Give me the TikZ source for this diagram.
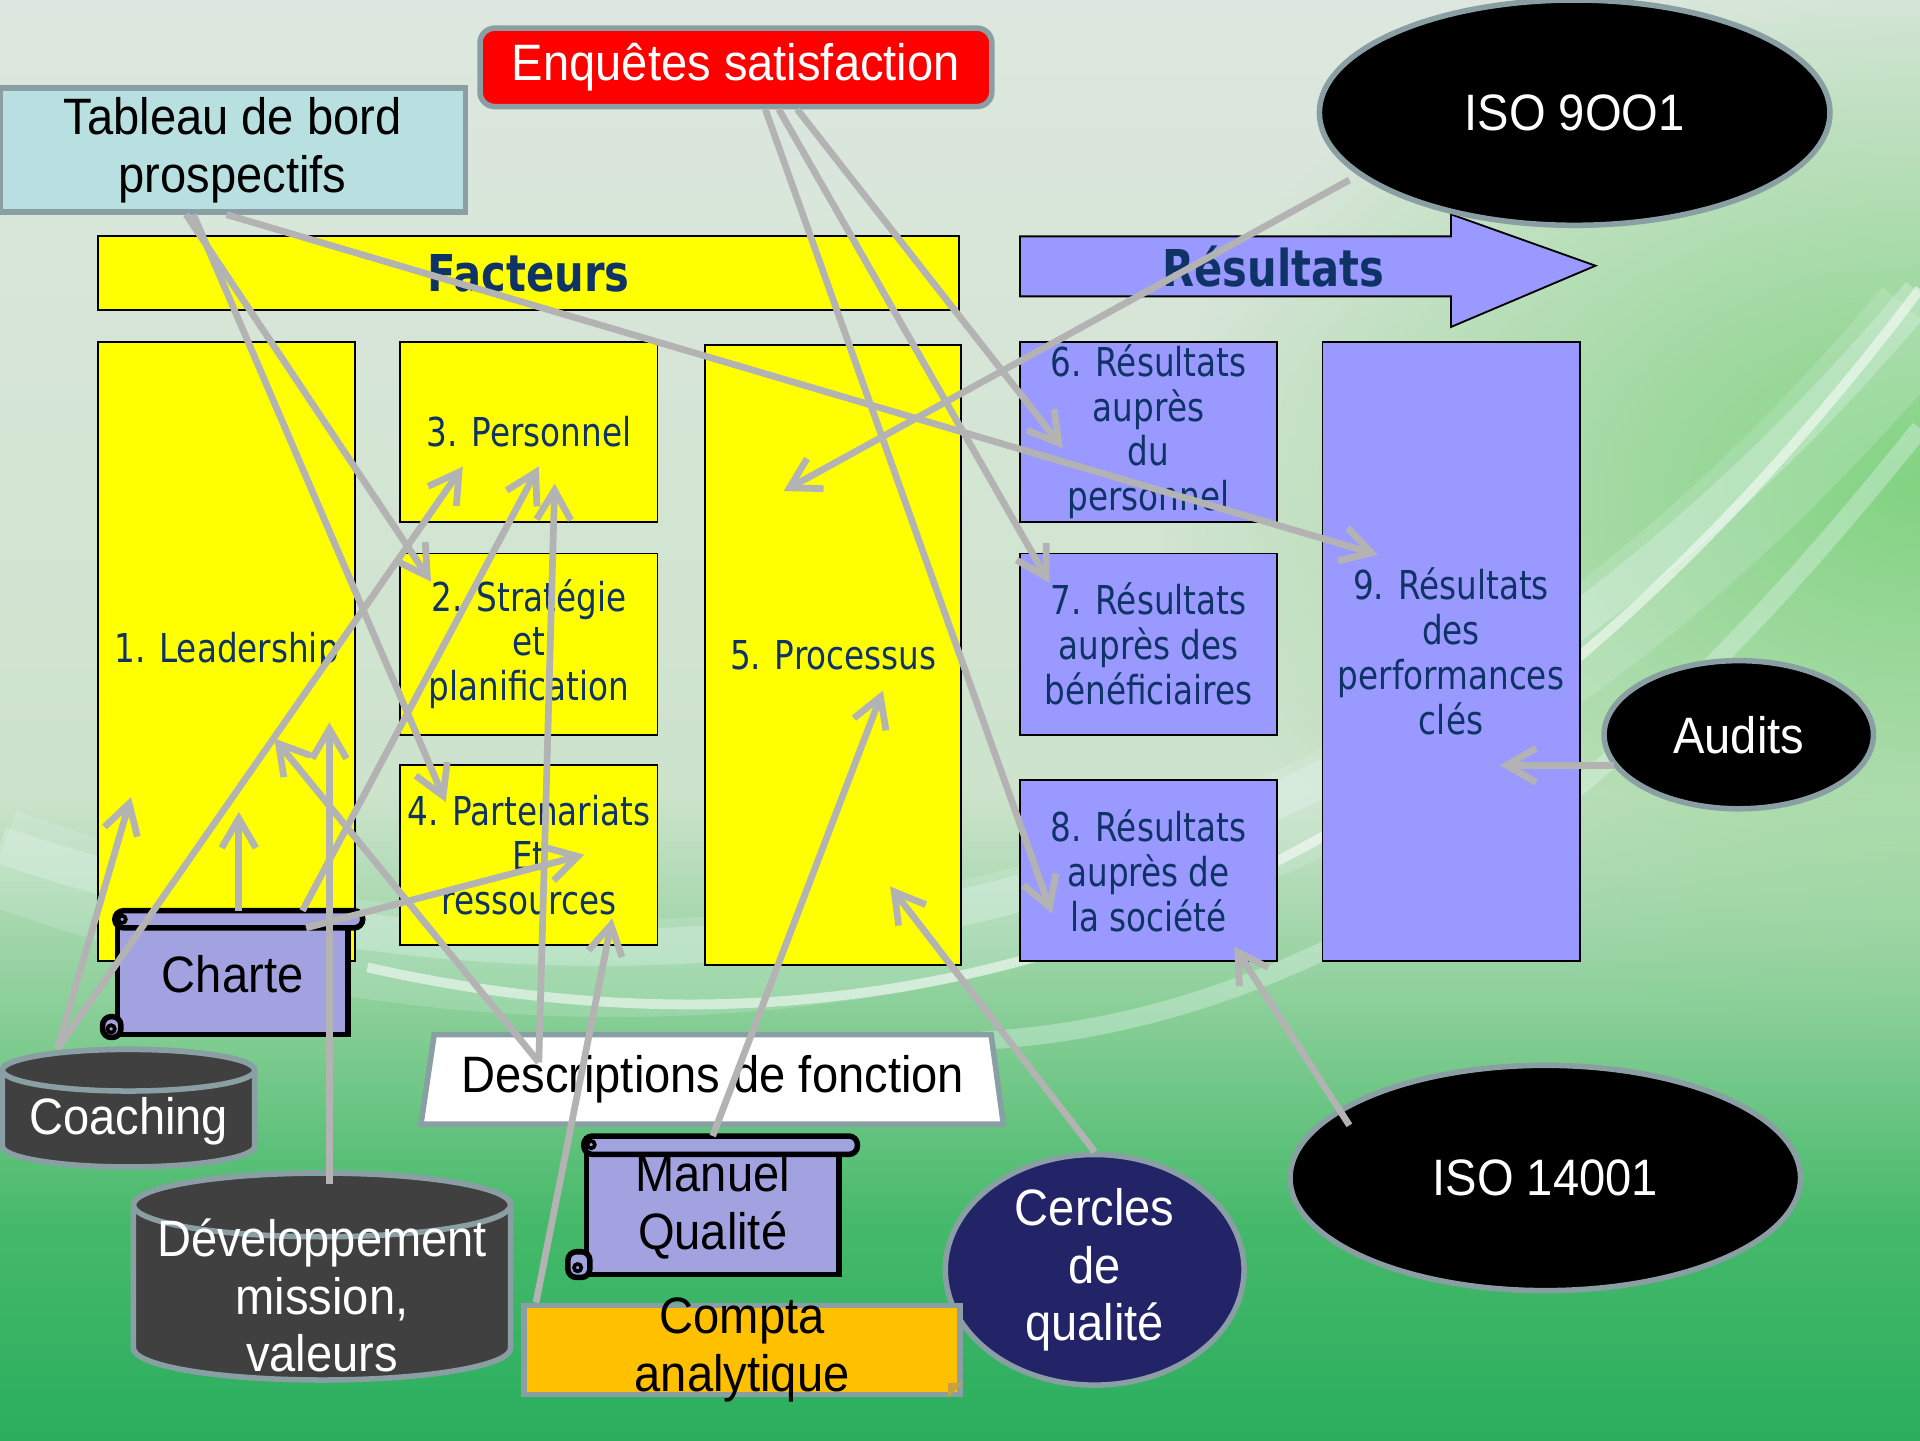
\documentclass[tikz,border=0pt]{standalone}
\usepackage{fontspec}
\usetikzlibrary{shapes.geometric,arrows.meta,calc,fadings}
\newfontfamily\arialfam{Liberation Sans}[FakeStretch=0.92]
\newfontfamily\tahomafam{DejaVu Sans}[FakeStretch=0.82]
\newcommand\arialf{\arialfam\fontsize{11.9}{13.4}\selectfont}
\newcommand\navyf{\tahomafam\fontsize{9.25}{10.4}\selectfont}
\newcommand\titlef{\tahomafam\bfseries\fontsize{11.8}{13}\selectfont}
\definecolor{fyellow}{HTML}{FFFF00}
\definecolor{rblue}{HTML}{9999FF}
\definecolor{navy}{HTML}{0F3366}
\definecolor{argray}{HTML}{B3B3B3}
\definecolor{callgray}{HTML}{8A9FA3}
\definecolor{tbcyan}{HTML}{B9E0E1}
\definecolor{lav}{HTML}{A2A2E0}
\definecolor{cyldark}{HTML}{404040}
\definecolor{comptaor}{HTML}{FFC000}
\definecolor{foldor}{HTML}{C9A040}
\definecolor{cerclenavy}{HTML}{232468}
\definecolor{bgtop}{HTML}{DDE7DF}
\definecolor{bgmid}{HTML}{CDE3CC}
\definecolor{bglow}{HTML}{8ACF98}
\definecolor{bgdeep}{HTML}{45B96A}
\definecolor{bgbot}{HTML}{2AAE5E}
\definecolor{bgright}{HTML}{7ED27E}
\definecolor{swoosh}{HTML}{E8F8F4}
\pgfdeclareverticalshading{bgshade}{100bp}{color(0bp)=(bgbot); color(25bp)=(bgbot); color(32.5bp)=(bgdeep); color(40bp)=(bglow); color(47.5bp)=(bgmid); color(75bp)=(bgtop); color(100bp)=(bgtop)}
\tikzfading[name=blob, inner color=transparent!5, outer color=transparent!100]
\begin{document}
\begin{tikzpicture}[x=0.1mm,y=-0.1mm]
\tikzstyle{factbox}=[draw=black,line width=0.15mm,fill=fyellow,inner sep=0pt,align=center,text=navy,font=\navyf,minimum width=21mm]
\tikzstyle{resbox}=[factbox,fill=rblue]
\tikzstyle{callout}=[draw=callgray,line width=0.45mm,inner sep=0pt,align=center,font=\arialf]
\tikzstyle{blackoval}=[callout,ellipse,fill=black,text=white]
\tikzstyle{scrollbody}=[draw=black,line width=0.45mm,fill=lav,inner sep=0pt,align=center,font=\arialf]
\tikzstyle{scrollpart}=[draw=black,line width=0.45mm,fill=lav,rounded corners=0.7mm]
\tikzstyle{cylpart}=[draw=callgray,line width=0.45mm,fill=cyldark]
\tikzstyle{cyltext}=[inner sep=0pt,align=center,font=\arialf,text=white]
\tikzstyle{conn}=[color=argray,line width=0.55mm,-{Straight Barb[length=2.4mm,width=2.8mm]}]
\useasboundingbox (0,0) rectangle (1568,1176);
\shade[shading=bgshade] (0,0) rectangle (1568,1176);
\fill[bgright,path fading=blob] (1568,400) ellipse[x radius=620, y radius=440];
\draw[swoosh,opacity=0.18,line width=8mm] (0,700) .. controls (500,880) and (1100,820) .. (1568,260);
\draw[swoosh,opacity=0.3,line width=3mm] (0,690) .. controls (500,860) and (1100,800) .. (1568,240);
\draw[white,opacity=0.55,line width=0.8mm] (300,790) .. controls (700,880) and (1150,790) .. (1568,236);
\draw[swoosh,opacity=0.35,line width=1.5mm] (800,850) .. controls (1150,830) and (1400,560) .. (1568,350);
\node[factbox,minimum width=70.3mm,minimum height=6mm,font=\titlef] (fact) at (431.5,223) {Facteurs};
\filldraw[fill=rblue,draw=black,line width=0.15mm] (833,193) -- (1185,193) -- (1185,175) -- (1303,217) -- (1185,267) -- (1185,242) -- (833,242) -- cycle;
\node[text=navy,font=\titlef] (restitle) at (1040,218) {Résultats};
\node[factbox,minimum height=50.6mm] (lead) at (185,532) {1. Leadership};
\node[factbox,minimum height=14.7mm] (pers) at (432,352.5) {3. Personnel};
\node[factbox,minimum height=14.8mm] (strat) at (432,526) {2. Stratégie\\et\\planification};
\node[factbox,minimum height=14.7mm] (part) at (432,698.5) {4. Partenariats\\Et\\ressources};
\node[factbox,minimum width=20.9mm,minimum height=50.6mm] (proc) at (680.5,535) {5. Processus};
\node[resbox,minimum height=14.7mm] (r6) at (938,352.5) {6. Résultats\\auprès\\du\\personnel};
\node[resbox,minimum height=14.8mm] (r7) at (938,526) {7. Résultats\\auprès des\\bénéficiaires};
\node[resbox,minimum height=14.8mm] (r8) at (938,711) {8. Résultats\\auprès de\\la société};
\node[resbox,minimum height=50.6mm] (r9) at (1185,532) {9. Résultats\\des\\performances\\clés};
\node[callout,fill=tbcyan,minimum width=38mm,minimum height=10.1mm] (tab) at (190,122.5) {Tableau de bord\\prospectifs};
\node[callout,fill=red,text=white,rounded corners=1.2mm,minimum width=41.8mm,minimum height=6.4mm] (enq) at (601,55) {Enquêtes satisfaction};
\node[blackoval,minimum width=41.7mm,minimum height=18.4mm] (iso9) at (1286,92) {ISO 9OO1};
\node[blackoval,minimum width=22mm,minimum height=12.1mm] (audits) at (1420,600) {Audits};
\node[blackoval,minimum width=41.7mm,minimum height=18.4mm] (iso14) at (1262,962) {ISO 14001};
\node[callout,ellipse,fill=cerclenavy,text=white,minimum width=24.4mm,minimum height=18.4mm] (cercles) at (894,1037) {Cercles\\de\\qualité};
\node[callout,trapezium,trapezium left angle=76,trapezium right angle=77,trapezium stretches=true,fill=white,minimum width=47.6mm,minimum height=7.3mm] (desc) at (582,881.5) {Descriptions de fonction};
\node[callout,fill=comptaor,minimum width=35.6mm,minimum height=7.3mm,label={[font=\arialf,align=center,inner sep=0pt]center:{Compta\\analytique}}] (compta) at (606,1102.5) {};
\fill[foldor] ($(compta.south east)+(-12,0)$) -- ($(compta.south east)+(0,-12)$) -- ($(compta.south east)+(-12,-12)$) -- cycle;
\node[scrollbody,minimum width=18.8mm,minimum height=9.9mm] (charte) at (190,795.5) {Charte};
\filldraw[scrollpart] (charte.north west) rectangle ($(charte.north east)+(10,14)$);
\filldraw[scrollpart] ($(charte.south west)+(-10,-17)$) rectangle ($(charte.south west)+(5,0)$);
\draw[line width=0.3mm] ($(charte.north west)+(6,7)$) circle[radius=0.3mm];
\draw[line width=0.3mm] ($(charte.south west)+(-3,-7)$) circle[radius=0.3mm];
\node[scrollbody,minimum width=20.6mm,minimum height=11.1mm] (manuel) at (582,985.5) {Manuel\\Qualité};
\filldraw[scrollpart] (manuel.north west) rectangle ($(manuel.north east)+(13,15)$);
\filldraw[scrollpart] ($(manuel.south west)+(-13,-21)$) rectangle ($(manuel.south west)+(5,0)$);
\draw[line width=0.3mm] ($(manuel.north west)+(6,7)$) circle[radius=0.3mm];
\draw[line width=0.3mm] ($(manuel.south west)+(-5,-8)$) circle[radius=0.3mm];
\filldraw[cylpart] (2,874) -- (2,936) arc[start angle=180,end angle=0,x radius=103,y radius=17] -- (208,874) arc[start angle=0,end angle=-180,x radius=103,y radius=17] -- cycle;
\draw[cylpart] (105,874) ellipse[x radius=103,y radius=17];
\node[cyltext,minimum width=20.6mm,minimum height=11.8mm] (coach) at (105,916) {Coaching};
\filldraw[cylpart] (109,984) -- (109,1101) arc[start angle=180,end angle=0,x radius=154,y radius=26] -- (417,984) arc[start angle=0,end angle=-180,x radius=154,y radius=26] -- cycle;
\draw[cylpart] (263,984) ellipse[x radius=154,y radius=26];
\node[cyltext,minimum width=30.8mm,minimum height=20mm] (dev) at (263,1058) {Développement\\mission,\\valeurs};
\path[]
    ($(tab.south)+(-38,0)$) [conn] edge ($(strat)+(-80,-51)$)
    ($(tab.south)+(-32,0)$) [conn] edge ($(part)+(-68,-43.5)$)
    ($(tab.south)+(-5,0)$) [conn] edge ($(r9)+(-60,-79)$);
\path[]
    ($(enq.south)+(24,0)$) [conn] edge ($(r8)+(-79,35)$)
    ($(enq.south)+(35,0)$) [conn] edge ($(r7)+(-81,-50)$)
    ($(enq.south)+(50,0)$) [conn] edge ($(r6)+(-70,13.5)$);
\path[]
    ($(iso9)+(-184,55)$) [conn] edge ($(proc)+(-40.5,-134)$)
    ($(audits)+(-102,25)$) [conn] edge ($(r9)+(40,93)$)
    ($(iso14)+(-160,-43)$) [conn] edge ($(r8)+(70,62)$)
    (cercles.north) [conn] edge ($(proc)+(46.5,189)$)
    (manuel.north) [conn] edge ($(proc)+(40.5,29)$)
    ($(compta.north west)+(12,0)$) [conn] edge ($(part)+(68,51.5)$);
\path[]
    ($(desc)+(-142,-14)$) [conn] edge ($(lead)+(39,71)$)
    ($(desc)+(-142,-14)$) [conn] edge ($(pers)+(21,42.5)$)
    ($(charte.north)+(5,0)$) [conn] edge ($(lead)+(10,131)$)
    ($(charte.north)+(57,0)$) [conn] edge ($(pers)+(8,28.5)$)
    ($(charte.north)+(60,14)$) [conn] edge ($(part)+(45,-0.5)$)
    ($(coach.north)+(-58,0)$) [conn] edge ($(lead)+(-78,119)$)
    ($(coach.north)+(-58,0)$) [conn] edge ($(pers)+(-54,28.5)$)
    ($(dev.north)+(6,10)$) [conn] edge ($(lead)+(84,58)$);
\end{tikzpicture}
\end{document}
